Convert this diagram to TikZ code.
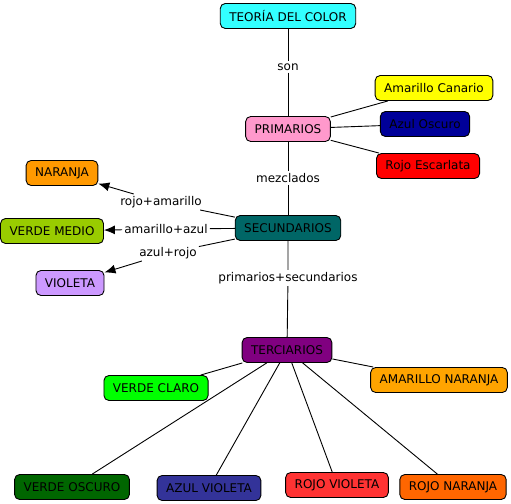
\documentclass[tikz,border=0pt]{standalone}
\usepackage{fontspec}
\setmainfont{DejaVu Sans}
\usetikzlibrary{arrows.meta}
\definecolor{cian}{RGB}{51,255,255}
\definecolor{rosa}{RGB}{255,153,204}
\definecolor{amarillo}{RGB}{255,255,0}
\definecolor{azuloscuro}{RGB}{0,0,153}
\definecolor{escarlata}{RGB}{255,0,0}
\definecolor{turquesa}{RGB}{0,102,102}
\definecolor{naranja}{RGB}{255,153,0}
\definecolor{verdemedio}{RGB}{153,204,0}
\definecolor{violeta}{RGB}{204,153,255}
\definecolor{purpura}{RGB}{128,0,128}
\definecolor{verdeclaro}{RGB}{0,255,0}
\definecolor{amanaranja}{RGB}{255,164,0}
\definecolor{verdeoscuro}{RGB}{0,102,0}
\definecolor{azulvioleta}{RGB}{51,51,153}
\definecolor{rojovioleta}{RGB}{255,51,51}
\definecolor{rojonaranja}{RGB}{255,102,0}
\begin{document}
\begin{tikzpicture}[x=1pt, y=-1pt,
  every node/.style={font=\fontsize{12}{14}\selectfont},
  concepto/.style={draw, rounded corners=5pt, line width=0.9pt, minimum height=25pt, inner xsep=9pt},
  enlace/.style={inner sep=2pt},
  linea/.style={line width=0.9pt},
  flecha/.style={line width=0.9pt, -{Latex[length=11pt,width=9pt]}}]
  \useasboundingbox (0,0) rectangle (511,503);

  % primarios
  \node[concepto, fill=cian] (teoria) at (288,16) {TEORÍA DEL COLOR};
  \node[concepto, fill=rosa] (prim) at (288,129) {PRIMARIOS};
  \node[concepto, fill=amarillo] (canario) at (434,88) {Amarillo Canario};
  \node[concepto, fill=azuloscuro] (azul) at (425,124) {Azul Oscuro};
  \node[concepto, fill=escarlata] (escarlata) at (428,166) {Rojo Escarlata};
  \node[enlace] (son) at (288,67) {son};
  \draw[linea] (teoria) -- (son) -- (prim);
  \draw[linea] (prim) -- (canario);
  \draw[linea] (prim) -- (azul);
  \draw[linea] (prim) -- (escarlata);

  % secundarios
  \node[concepto, fill=turquesa] (sec) at (288,228) {SECUNDARIOS};
  \node[concepto, fill=naranja] (naranja) at (62,173) {NARANJA};
  \node[concepto, fill=verdemedio] (verde) at (52,231) {VERDE MEDIO};
  \node[concepto, fill=violeta] (violeta) at (70,283) {VIOLETA};
  \node[enlace] (mezcla) at (288,178) {mezclados};
  \node[enlace] (ra) at (161,202) {rojo+amarillo};
  \node[enlace] (aa) at (166,229) {amarillo+azul};
  \node[enlace] (ar) at (168,253) {azul+rojo};
  \draw[linea] (prim) -- (mezcla) -- (sec);
  \draw[linea] (sec) -- (ra);
  \draw[flecha] (ra) -- (naranja);
  \draw[linea] (sec) -- (aa);
  \draw[flecha] (aa) -- (verde);
  \draw[linea] (sec) -- (ar);
  \draw[flecha] (ar) -- (violeta);

  % terciarios
  \node[concepto, fill=purpura] (ter) at (287,350) {TERCIARIOS};
  \node[enlace] (ps) at (288,278) {primarios+secundarios};
  \node[concepto, fill=verdeclaro] (vclaro) at (156,388) {VERDE CLARO};
  \node[concepto, fill=amanaranja] (amnar) at (439,380) {AMARILLO NARANJA};
  \node[concepto, fill=verdeoscuro] (voscuro) at (72,487) {VERDE OSCURO};
  \node[concepto, fill=azulvioleta] (azvio) at (209,488) {AZUL VIOLETA};
  \node[concepto, fill=rojovioleta] (rovio) at (337,485) {ROJO VIOLETA};
  \node[concepto, fill=rojonaranja] (ronar) at (453,487) {ROJO NARANJA};
  \draw[linea] (sec) -- (ps) -- (ter);
  \foreach \n in {vclaro, amnar, voscuro, azvio, rovio, ronar}
    \draw[linea] (ter) -- (\n);
\end{tikzpicture}
\end{document}
